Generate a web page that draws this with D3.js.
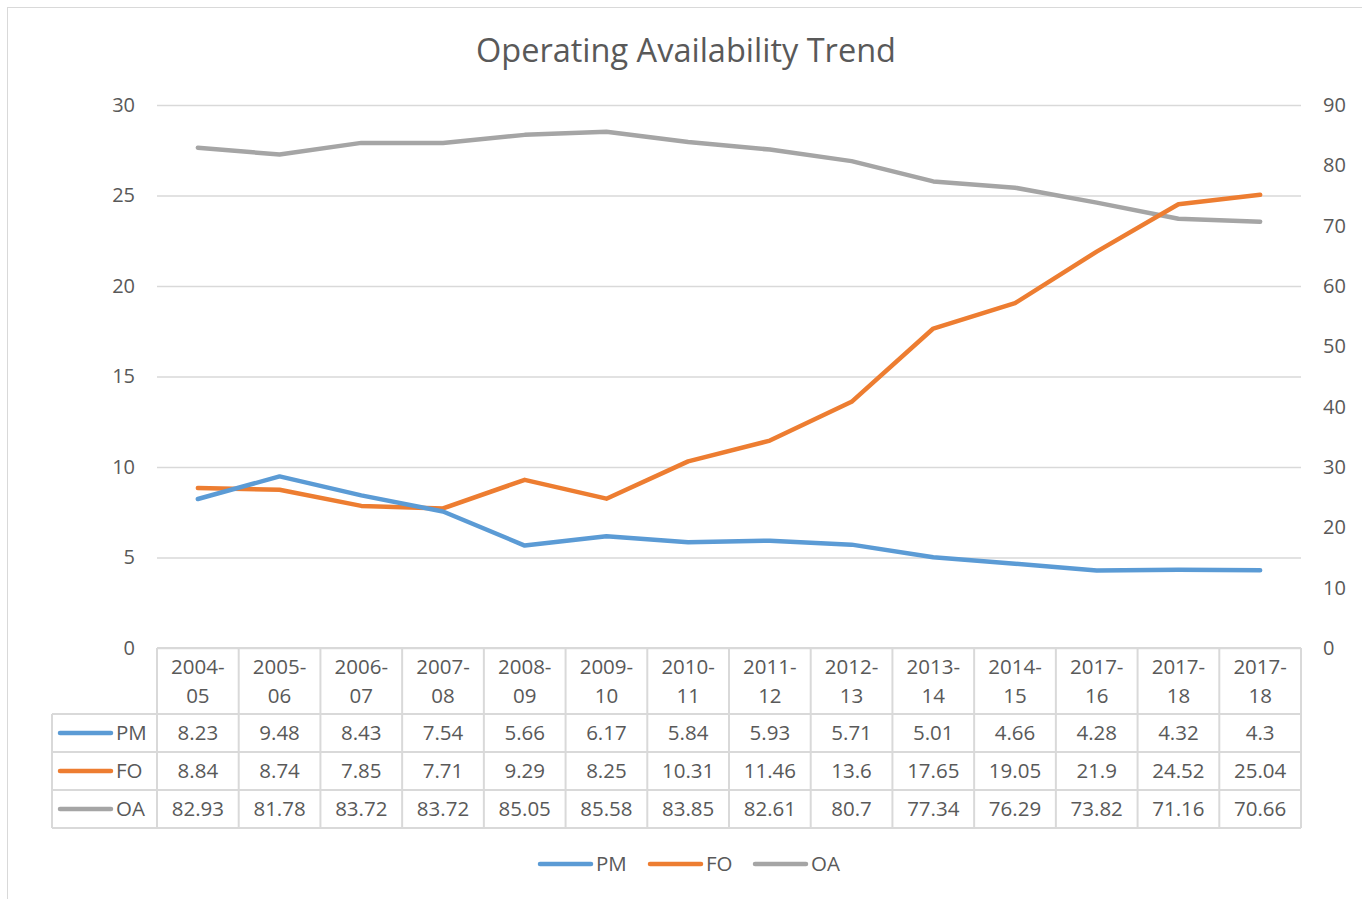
<!DOCTYPE html>
<html><head><meta charset="utf-8">
<script src="https://cdn.jsdelivr.net/npm/d3@7"></script>
<style>body{margin:0;background:#fff}svg text{font-family:"Open Sans","Noto Sans",sans-serif;fill:#595959}</style>
</head><body><svg id="c" width="1362" height="899"></svg>
<script>
const categories=["2004-05","2005-06","2006-07","2007-08","2008-09","2009-10","2010-11","2011-12","2012-13","2013-14","2014-15","2017-16","2017-18","2017-18"];
const pm=[8.23,9.48,8.43,7.54,5.66,6.17,5.84,5.93,5.71,5.01,4.66,4.28,4.32,4.3];
const fo=[8.84,8.74,7.85,7.71,9.29,8.25,10.31,11.46,13.6,17.65,19.05,21.9,24.52,25.04];
const oa=[82.93,81.78,83.72,83.72,85.05,85.58,83.85,82.61,80.7,77.34,76.29,73.82,71.16,70.66];
const leftTicks=[0,5,10,15,20,25,30];
const rightTicks=[0,10,20,30,40,50,60,70,80,90];
const seriesNames=["PM","FO","OA"];
const colors=["#5b9bd5","#ed7d31","#a5a5a5"];

const svg=d3.select("#c");
svg.append("rect").attr("x",7.5).attr("y",7.5).attr("width",1400).attr("height",1000).attr("fill","none").attr("stroke","#d9d9d9");

const L=157,R=1301,T=105,B=648;
const x=d3.scaleBand().domain(d3.range(categories.length)).range([L,R]);
const yL=d3.scaleLinear().domain([0,30]).range([B,T]);
const yR=d3.scaleLinear().domain([0,90]).range([B,T]);

svg.append("text").attr("x",686).attr("y",62).attr("text-anchor","middle").attr("font-size",32.5).text("Operating Availability Trend");

const gl=d3.axisLeft(yL).tickValues(leftTicks).tickSize(-(R-L)).tickFormat("");
svg.append("g").attr("transform",`translate(${L},0)`).call(gl).call(g=>{g.select(".domain").remove();g.selectAll("line").attr("stroke","#d9d9d9").attr("stroke-width",1.3);});
svg.append("g").attr("transform",`translate(${L},0)`).call(d3.axisLeft(yL).tickValues(leftTicks).tickSize(0).tickPadding(22))
 .call(g=>{g.select(".domain").remove();g.selectAll("text").attr("font-size",20).attr("fill","#595959").attr("font-family","Open Sans").attr("dy","0.32em");});
svg.append("g").attr("transform",`translate(${R},0)`).call(d3.axisRight(yR).tickValues(rightTicks).tickSize(0).tickPadding(22))
 .call(g=>{g.select(".domain").remove();g.selectAll("text").attr("font-size",20).attr("fill","#595959").attr("font-family","Open Sans").attr("dy","0.32em");});

const cx=i=>x(i)+x.bandwidth()/2;
const lineL=d3.line().x((d,i)=>cx(i)).y(d=>yL(d));
const lineR=d3.line().x((d,i)=>cx(i)).y(d=>yR(d));
[[oa,lineR,2],[fo,lineL,1],[pm,lineL,0]].forEach(([data,ln,k])=>{
  svg.append("path").attr("d",ln(data)).attr("fill","none").attr("stroke",colors[k]).attr("stroke-width",4.5).attr("stroke-linecap","round").attr("stroke-linejoin","round");
});

const tc="#d9d9d9";
const rowsY=[714,752,790,828];
const fs=20.5;
const tg=svg.append("g");
tg.append("line").attr("x1",L).attr("x2",R).attr("y1",B).attr("y2",B).attr("stroke",tc).attr("stroke-width",2);
rowsY.forEach(y=>tg.append("line").attr("x1",52).attr("x2",R).attr("y1",y).attr("y2",y).attr("stroke",tc).attr("stroke-width",2));
d3.range(categories.length+1).forEach(i=>{
  const xx=i<categories.length?x(i):R;
  tg.append("line").attr("x1",xx).attr("x2",xx).attr("y1",B).attr("y2",828).attr("stroke",tc).attr("stroke-width",2);
});
tg.append("line").attr("x1",52).attr("x2",52).attr("y1",714).attr("y2",828).attr("stroke",tc).attr("stroke-width",2);
categories.forEach((c,i)=>{
  const p=c.split("-");
  tg.append("text").attr("x",cx(i)).attr("y",674).attr("text-anchor","middle").attr("font-size",fs).text(p[0]+"-");
  tg.append("text").attr("x",cx(i)).attr("y",703).attr("text-anchor","middle").attr("font-size",fs).text(p[1]);
});
[pm,fo,oa].forEach((data,k)=>{
  const yc=(rowsY[k]+rowsY[k+1])/2;
  tg.append("line").attr("x1",60).attr("x2",111).attr("y1",yc).attr("y2",yc).attr("stroke",colors[k]).attr("stroke-width",4.5).attr("stroke-linecap","round");
  tg.append("text").attr("x",116).attr("y",yc).attr("dy","0.35em").attr("font-size",fs).text(seriesNames[k]);
  data.forEach((v,i)=>tg.append("text").attr("x",cx(i)).attr("y",yc).attr("dy","0.35em").attr("text-anchor","middle").attr("font-size",fs).text(v));
});

const lx=[540,650,755];
seriesNames.forEach((n,k)=>{
  svg.append("line").attr("x1",lx[k]).attr("x2",lx[k]+51).attr("y1",864).attr("y2",864).attr("stroke",colors[k]).attr("stroke-width",4.5).attr("stroke-linecap","round");
  svg.append("text").attr("x",lx[k]+56).attr("y",864).attr("dy","0.35em").attr("font-size",fs).text(n);
});
</script></body></html>
